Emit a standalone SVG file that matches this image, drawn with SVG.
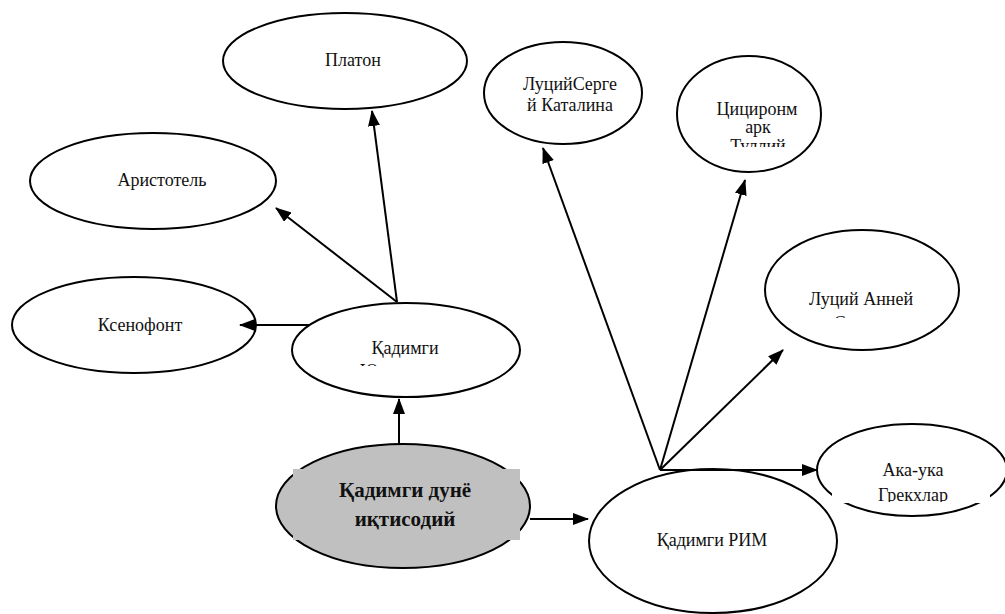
<svg xmlns="http://www.w3.org/2000/svg" width="1005" height="614" viewBox="0 0 1005 614">
<style>
.n{fill:#fff;stroke:#000;stroke-width:2}
.g{fill:#c0c0c0;stroke:#000;stroke-width:2}
.t{font-family:"Liberation Serif","Times New Roman",serif;font-size:18px;fill:#111;text-anchor:middle}
.b{font-family:"Liberation Serif","Times New Roman",serif;font-size:21px;font-weight:bold;fill:#111;text-anchor:middle}
.c{stroke:#000;stroke-width:2;fill:none;marker-end:url(#ah)}
</style>
<defs>
<marker id="ah" markerWidth="16" markerHeight="12" refX="15" refY="6" orient="auto" markerUnits="userSpaceOnUse"><path d="M0,0 L16,6 L0,12 z" fill="#000"/></marker>
<clipPath id="cY"><rect x="300" y="320" width="210" height="46"/></clipPath>
<clipPath id="cC"><rect x="690" y="90" width="130" height="57"/></clipPath>
<clipPath id="cS"><rect x="785" y="270" width="155" height="48"/></clipPath>
<clipPath id="cG"><rect x="832" y="445" width="158" height="57"/></clipPath>
</defs>
<g id="platon"><ellipse class="n" cx="345" cy="61" rx="122" ry="48"/><text class="t" x="353" y="66">Платон</text></g>
<g id="aristotel"><ellipse class="n" cx="153" cy="181" rx="123" ry="48"/><text class="t" x="162" y="186">Аристотель</text></g>
<g id="ksenofont"><ellipse class="n" cx="134" cy="325" rx="122" ry="48"/><text class="t" x="140" y="331">Ксенофонт</text></g>
<g id="yunon"><ellipse class="n" cx="406" cy="350" rx="114" ry="47"/><text class="t" clip-path="url(#cY)"><tspan x="405" y="354">Қадимги</tspan><tspan x="405" y="377">Юнонистон</tspan></text></g>
<g id="main"><ellipse class="g" cx="403" cy="506" rx="127" ry="62"/><rect x="293" y="469" width="227" height="71" fill="#c0c0c0"/><text class="b"><tspan x="405" y="497">Қадимги дунё</tspan><tspan x="405" y="526">иқтисодий</tspan></text></g>
<g id="rim"><ellipse class="n" cx="713" cy="541" rx="124" ry="72"/><text class="t" x="712" y="546">Қадимги РИМ</text></g>
<g id="katalina"><ellipse class="n" cx="563" cy="93" rx="79" ry="51"/><text class="t"><tspan x="570" y="90">ЛуцийСерге</tspan><tspan x="570" y="111">й Каталина</tspan></text></g>
<g id="tsitseron"><ellipse class="n" cx="749" cy="114" rx="72" ry="58"/><text class="t" clip-path="url(#cC)"><tspan x="757" y="115">Цициронм</tspan><tspan x="758" y="133">арк</tspan><tspan x="758" y="152">Туллий</tspan></text></g>
<g id="seneka"><ellipse class="n" cx="862" cy="290" rx="97" ry="60"/><rect x="785" y="262" width="155" height="63" fill="#fff"/><text class="t" clip-path="url(#cS)"><tspan x="861" y="305">Луций Анней</tspan><tspan x="861" y="329">Сенека</tspan></text></g>
<g id="greklar"><ellipse class="n" cx="912" cy="470" rx="95" ry="46"/><rect x="832" y="446" width="158" height="57" fill="#fff"/><text class="t" clip-path="url(#cG)"><tspan x="913" y="476">Ака-ука</tspan><tspan x="913" y="501">Грекхлар</tspan></text></g>
<g id="connectors">
<line class="c" x1="399" y1="445" x2="399" y2="399"/>
<line class="c" x1="530" y1="519" x2="588" y2="519"/>
<line class="c" x1="310" y1="325" x2="240" y2="325"/>
<line class="c" x1="397" y1="302" x2="372" y2="111"/>
<line class="c" x1="397" y1="302" x2="276" y2="208"/>
<line class="c" x1="660" y1="470" x2="543" y2="148"/>
<line class="c" x1="660" y1="470" x2="745" y2="180"/>
<line class="c" x1="660" y1="470" x2="783" y2="350"/>
<line class="c" x1="660" y1="470" x2="817" y2="470"/>
</g>
</svg>
